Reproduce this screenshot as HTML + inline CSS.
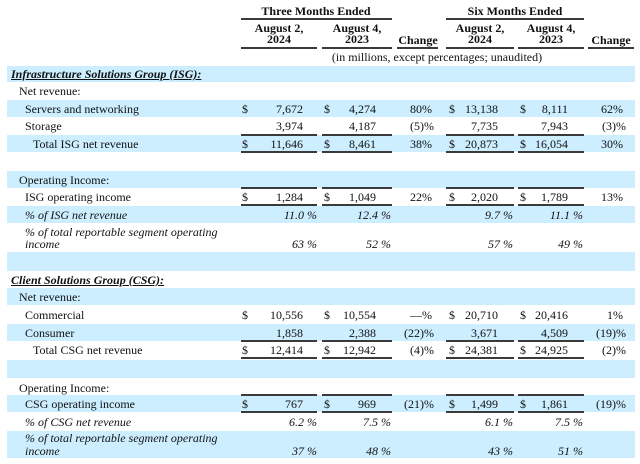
<!DOCTYPE html>
<html><head><meta charset="utf-8"><style>
html,body{margin:0;padding:0;background:#fff}
body{width:640px;height:464px;position:relative;overflow:hidden;font-family:"Liberation Serif","Times New Roman",serif;font-size:12px;color:#111}
.t{position:absolute;line-height:14px;white-space:nowrap}
.band{position:absolute;left:7px;width:628px;background:#cceeff}
.ln{position:absolute;height:2px;background:#3a3a3a}
.hb{font-weight:bold;text-align:center;width:200px}
.i{font-style:italic}
.ub{font-weight:bold;font-style:italic;text-decoration:underline}
.r{width:80px;text-align:right}
.d1{left:242px}.v1{left:223px}.p1{left:237px}
.d2{left:324px}.v2{left:296px}.p2{left:311px}
.c1{left:352px}.c1p{left:354px}
.d3{left:449px}.v3{left:418px}.p3{left:433px}
.d4{left:520px}.v4{left:488px}.p4{left:503px}
.c2{left:543px}.c2p{left:546px}
</style></head><body>

<!-- bands -->
<div class="band" style="top:66px;height:16px"></div>
<div class="band" style="top:100px;height:17px"></div>
<div class="band" style="top:135px;height:17px"></div>
<div class="band" style="top:171px;height:17px"></div>
<div class="band" style="top:206px;height:17px"></div>
<div class="band" style="top:252px;height:19px"></div>
<div class="band" style="top:288px;height:17px"></div>
<div class="band" style="top:324px;height:17px"></div>
<div class="band" style="top:360px;height:18px"></div>
<div class="band" style="top:395px;height:17px"></div>
<div class="band" style="top:431px;height:27px"></div>

<!-- header -->
<div class="t hb" style="left:216px;top:4px">Three Months Ended</div>
<div class="t hb" style="left:415px;top:4px">Six Months Ended</div>
<div class="ln" style="top:18px;left:241px;width:151px"></div>
<div class="ln" style="top:18px;left:446px;width:138px"></div>

<div class="t hb" style="left:179px;top:21px">August 2,</div>
<div class="t hb" style="left:179px;top:32px">2024</div>
<div class="t hb" style="left:257px;top:21px">August 4,</div>
<div class="t hb" style="left:257px;top:32px">2023</div>
<div class="t hb" style="left:318px;top:33px">Change</div>
<div class="t hb" style="left:380px;top:21px">August 2,</div>
<div class="t hb" style="left:380px;top:32px">2024</div>
<div class="t hb" style="left:451px;top:21px">August 4,</div>
<div class="t hb" style="left:451px;top:32px">2023</div>
<div class="t hb" style="left:511px;top:33px">Change</div>

<div class="ln" style="top:47px;left:241px;width:76px"></div>
<div class="ln" style="top:47px;left:322px;width:70px"></div>
<div class="ln" style="top:47px;left:397px;width:41px"></div>
<div class="ln" style="top:47px;left:446px;width:68px"></div>
<div class="ln" style="top:47px;left:518px;width:66px"></div>
<div class="ln" style="top:47px;left:588px;width:46px"></div>

<div class="t" style="left:237px;top:50px;width:400px;text-align:center">(in millions, except percentages; unaudited)</div>

<!-- ISG -->
<div class="t ub" style="left:11px;top:67px">Infrastructure Solutions Group (ISG):</div>
<div class="t" style="left:19px;top:84px">Net revenue:</div>

<div class="t" style="left:25px;top:102px">Servers and networking</div>
<div class="t d1" style="top:102px">$</div><div class="t r v1" style="top:102px">7,672</div>
<div class="t d2" style="top:102px">$</div><div class="t r v2" style="top:102px">4,274</div>
<div class="t r c1" style="top:102px">80%</div>
<div class="t d3" style="top:102px">$</div><div class="t r v3" style="top:102px">13,138</div>
<div class="t d4" style="top:102px">$</div><div class="t r v4" style="top:102px">8,111</div>
<div class="t r c2" style="top:102px">62%</div>

<div class="t" style="left:25px;top:119px">Storage</div>
<div class="t r v1" style="top:119px">3,974</div>
<div class="t r v2" style="top:119px">4,187</div>
<div class="t r c1p" style="top:119px">(5)%</div>
<div class="t r v3" style="top:119px">7,735</div>
<div class="t r v4" style="top:119px">7,943</div>
<div class="t r c2p" style="top:119px">(3)%</div>

<div class="ln" style="top:134px;left:241px;width:76px"></div>
<div class="ln" style="top:134px;left:322px;width:70px"></div>
<div class="ln" style="top:134px;left:446px;width:68px"></div>
<div class="ln" style="top:134px;left:518px;width:66px"></div>

<div class="t" style="left:33px;top:137px">Total ISG net revenue</div>
<div class="t d1" style="top:137px">$</div><div class="t r v1" style="top:137px">11,646</div>
<div class="t d2" style="top:137px">$</div><div class="t r v2" style="top:137px">8,461</div>
<div class="t r c1" style="top:137px">38%</div>
<div class="t d3" style="top:137px">$</div><div class="t r v3" style="top:137px">20,873</div>
<div class="t d4" style="top:137px">$</div><div class="t r v4" style="top:137px">16,054</div>
<div class="t r c2" style="top:137px">30%</div>

<div class="ln" style="top:151px;left:241px;width:76px"></div>
<div class="ln" style="top:151px;left:322px;width:70px"></div>
<div class="ln" style="top:151px;left:446px;width:68px"></div>
<div class="ln" style="top:151px;left:518px;width:66px"></div>

<div class="t" style="left:19px;top:173px">Operating Income:</div>

<div class="ln" style="top:187px;left:241px;width:76px"></div>
<div class="ln" style="top:187px;left:322px;width:70px"></div>
<div class="ln" style="top:187px;left:446px;width:68px"></div>
<div class="ln" style="top:187px;left:518px;width:66px"></div>

<div class="t" style="left:25px;top:190px">ISG operating income</div>
<div class="t d1" style="top:190px">$</div><div class="t r v1" style="top:190px">1,284</div>
<div class="t d2" style="top:190px">$</div><div class="t r v2" style="top:190px">1,049</div>
<div class="t r c1" style="top:190px">22%</div>
<div class="t d3" style="top:190px">$</div><div class="t r v3" style="top:190px">2,020</div>
<div class="t d4" style="top:190px">$</div><div class="t r v4" style="top:190px">1,789</div>
<div class="t r c2" style="top:190px">13%</div>

<div class="ln" style="top:204px;left:241px;width:76px"></div>
<div class="ln" style="top:204px;left:322px;width:70px"></div>
<div class="ln" style="top:204px;left:446px;width:68px"></div>
<div class="ln" style="top:204px;left:518px;width:66px"></div>

<div class="t i" style="left:25px;top:208px">% of ISG net revenue</div>
<div class="t i r p1" style="top:208px">11.0 %</div>
<div class="t i r p2" style="top:208px">12.4 %</div>
<div class="t i r p3" style="top:208px">9.7 %</div>
<div class="t i r p4" style="top:208px">11.1 %</div>

<div class="t i" style="left:25px;top:225px">% of total reportable segment operating</div>
<div class="t i" style="left:25px;top:237px">income</div>
<div class="t i r p1" style="top:237px">63 %</div>
<div class="t i r p2" style="top:237px">52 %</div>
<div class="t i r p3" style="top:237px">57 %</div>
<div class="t i r p4" style="top:237px">49 %</div>

<!-- CSG -->
<div class="t ub" style="left:11px;top:273px">Client Solutions Group (CSG):</div>
<div class="t" style="left:19px;top:290px">Net revenue:</div>

<div class="t" style="left:25px;top:308px">Commercial</div>
<div class="t d1" style="top:308px">$</div><div class="t r v1" style="top:308px">10,556</div>
<div class="t d2" style="top:308px">$</div><div class="t r v2" style="top:308px">10,554</div>
<div class="t r c1" style="top:308px">—%</div>
<div class="t d3" style="top:308px">$</div><div class="t r v3" style="top:308px">20,710</div>
<div class="t d4" style="top:308px">$</div><div class="t r v4" style="top:308px">20,416</div>
<div class="t r c2" style="top:308px">1%</div>

<div class="t" style="left:25px;top:326px">Consumer</div>
<div class="t r v1" style="top:326px">1,858</div>
<div class="t r v2" style="top:326px">2,388</div>
<div class="t r c1p" style="top:326px">(22)%</div>
<div class="t r v3" style="top:326px">3,671</div>
<div class="t r v4" style="top:326px">4,509</div>
<div class="t r c2p" style="top:326px">(19)%</div>

<div class="ln" style="top:340px;left:241px;width:76px"></div>
<div class="ln" style="top:340px;left:322px;width:70px"></div>
<div class="ln" style="top:340px;left:446px;width:68px"></div>
<div class="ln" style="top:340px;left:518px;width:66px"></div>

<div class="t" style="left:33px;top:343px">Total CSG net revenue</div>
<div class="t d1" style="top:343px">$</div><div class="t r v1" style="top:343px">12,414</div>
<div class="t d2" style="top:343px">$</div><div class="t r v2" style="top:343px">12,942</div>
<div class="t r c1p" style="top:343px">(4)%</div>
<div class="t d3" style="top:343px">$</div><div class="t r v3" style="top:343px">24,381</div>
<div class="t d4" style="top:343px">$</div><div class="t r v4" style="top:343px">24,925</div>
<div class="t r c2p" style="top:343px">(2)%</div>

<div class="ln" style="top:357px;left:241px;width:76px"></div>
<div class="ln" style="top:357px;left:322px;width:70px"></div>
<div class="ln" style="top:357px;left:446px;width:68px"></div>
<div class="ln" style="top:357px;left:518px;width:66px"></div>

<div class="t" style="left:19px;top:381px">Operating Income:</div>

<div class="ln" style="top:394px;left:241px;width:76px"></div>
<div class="ln" style="top:394px;left:322px;width:70px"></div>
<div class="ln" style="top:394px;left:446px;width:68px"></div>
<div class="ln" style="top:394px;left:518px;width:66px"></div>

<div class="t" style="left:25px;top:397px">CSG operating income</div>
<div class="t d1" style="top:397px">$</div><div class="t r v1" style="top:397px">767</div>
<div class="t d2" style="top:397px">$</div><div class="t r v2" style="top:397px">969</div>
<div class="t r c1p" style="top:397px">(21)%</div>
<div class="t d3" style="top:397px">$</div><div class="t r v3" style="top:397px">1,499</div>
<div class="t d4" style="top:397px">$</div><div class="t r v4" style="top:397px">1,861</div>
<div class="t r c2p" style="top:397px">(19)%</div>

<div class="ln" style="top:411px;left:241px;width:76px"></div>
<div class="ln" style="top:411px;left:322px;width:70px"></div>
<div class="ln" style="top:411px;left:446px;width:68px"></div>
<div class="ln" style="top:411px;left:518px;width:66px"></div>

<div class="t i" style="left:25px;top:415px">% of CSG net revenue</div>
<div class="t i r p1" style="top:415px">6.2 %</div>
<div class="t i r p2" style="top:415px">7.5 %</div>
<div class="t i r p3" style="top:415px">6.1 %</div>
<div class="t i r p4" style="top:415px">7.5 %</div>

<div class="t i" style="left:25px;top:431px">% of total reportable segment operating</div>
<div class="t i" style="left:25px;top:444px">income</div>
<div class="t i r p1" style="top:444px">37 %</div>
<div class="t i r p2" style="top:444px">48 %</div>
<div class="t i r p3" style="top:444px">43 %</div>
<div class="t i r p4" style="top:444px">51 %</div>

</body></html>
